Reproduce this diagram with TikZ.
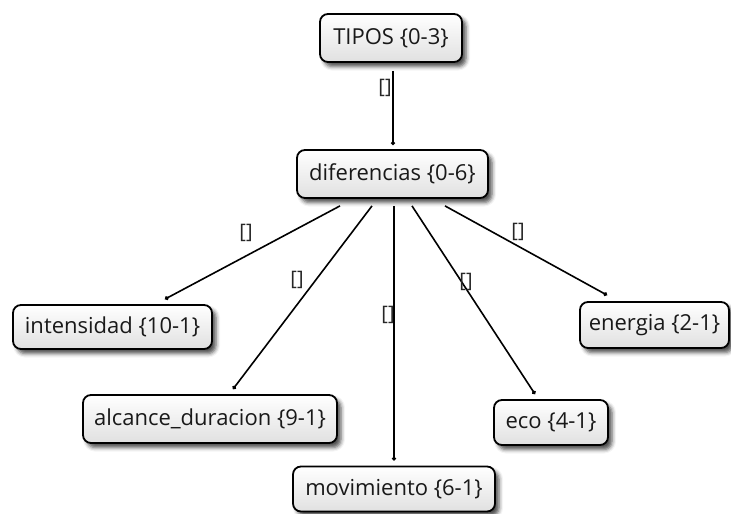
\documentclass[tikz,border=0pt]{standalone}
\usepackage{fontspec}
\setmainfont{Open Sans}
\usetikzlibrary{shadows.blur,arrows.meta}
\begin{document}
\begin{tikzpicture}[x=1pt,y=-1pt,
  concept/.style={draw=black, line width=1.8pt, rounded corners=8pt,
    top color=white, bottom color=black!12,
    blur shadow={shadow xshift=4pt, shadow yshift=-4.5pt, shadow blur radius=4pt, shadow opacity=70},
    font=\fontsize{22}{26}\selectfont, text=black!90, inner sep=0pt},
  link/.style={line width=1.6pt, -{Circle[length=4pt]}},
  tag/.style={font=\fontsize{20}{24}\selectfont, inner sep=0pt, text=black!85}]
\useasboundingbox (0,0) rectangle (731,514);

% concept boxes
\node[concept, minimum width=142pt, minimum height=48pt] (tipos) at (391,38) {TIPOS \{0-3\}};
\node[concept, minimum width=191pt, minimum height=48pt] (dif) at (392.5,174) {diferencias \{0-6\}};
\node[concept, minimum width=199pt, minimum height=44pt] (int) at (112.5,327) {intensidad \{10-1\}};
\node[concept, minimum width=254pt, minimum height=48pt] (alc) at (210,419) {alcance\_duracion \{9-1\}};
\node[concept, minimum width=202pt, minimum height=45pt] (mov) at (394,489) {movimiento \{6-1\}};
\node[concept, minimum width=114pt, minimum height=45pt] (eco) at (551,422.5) {eco \{4-1\}};
\node[concept, minimum width=149pt, minimum height=46pt] (ene) at (654.5,325) {energia \{2-1\}};

% links
\draw[link] ([xshift=2pt,yshift=-8pt]tipos.south) -- ([xshift=0.5pt,yshift=4pt]dif.north);
\draw[link] ([xshift=-52.5pt,yshift=-7pt]dif.south) -- ([xshift=52.5pt,yshift=5pt]int.north);
\draw[link] ([xshift=-20.5pt,yshift=-7pt]dif.south) -- ([xshift=23pt,yshift=5pt]alc.north);
\draw[link] ([xshift=1.5pt,yshift=-7pt]dif.south) -- ([xshift=0pt,yshift=5pt]mov.north);
\draw[link] ([xshift=19.5pt,yshift=-7pt]dif.south) -- ([xshift=-16pt,yshift=5pt]eco.north);
\draw[link] ([xshift=52.5pt,yshift=-7pt]dif.south) -- ([xshift=-47.5pt,yshift=6pt]ene.north);

% link labels
\node[tag] (t0) at (385,88) {[]};
\node[tag] (t1) at (246,233) {[]};
\node[tag] (t2) at (297,280) {[]};
\node[tag] (t3) at (388,315) {[]};
\node[tag] (t4) at (466,282) {[]};
\node[tag] (t5) at (518,232) {[]};
\end{tikzpicture}
\end{document}
